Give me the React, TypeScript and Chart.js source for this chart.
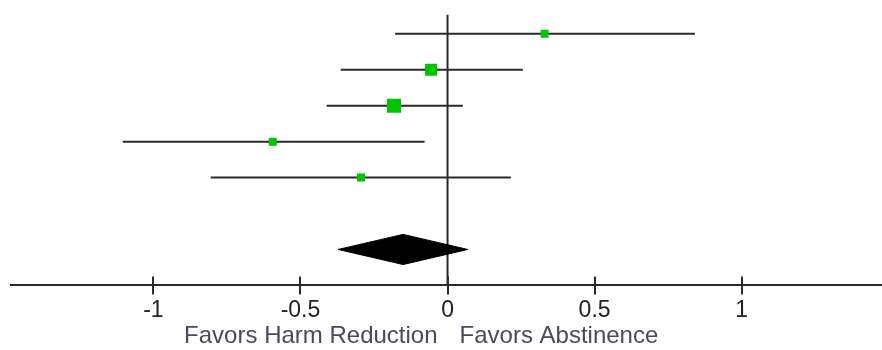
import React, { useEffect, useRef } from "react";
import { Chart, registerables } from "chart.js";

Chart.register(...registerables);

// Study estimates (standardized effect) and 95% CI
const studyRows = [1, 2, 3, 4, 5];
const estimates = [0.33, -0.056, -0.182, -0.594, -0.294];
const lowerCI = [-0.178, -0.363, -0.411, -1.104, -0.805];
const upperCI = [0.841, 0.256, 0.052, -0.078, 0.215];
const weights = [8, 12, 14, 8, 8]; // marker side length (study weight)

// Pooled estimate
const pooledRow = 7;
const pooledEst = -0.151;
const pooledLow = -0.372;
const pooledHigh = 0.069;

const xTicks = [-1, -0.5, 0, 0.5, 1];
const leftLabel = "Favors Harm Reduction";
const rightLabel = "Favors Abstinence";

const FONT = "'Liberation Sans', Arial, sans-serif";

export default function App() {
  const ref = useRef<HTMLCanvasElement | null>(null);

  useEffect(() => {
    const canvas = ref.current!;
    const lineColor = "#2a2a2a";

    const ciDatasets = studyRows.map((r, i) => ({
      type: "scatter" as const,
      data: [
        { x: lowerCI[i], y: r },
        { x: upperCI[i], y: r },
      ],
      showLine: true,
      borderColor: lineColor,
      borderWidth: 2,
      pointRadius: 0,
      order: 2,
    }));

    const diamondHalf = 0.42;
    const diamond = {
      type: "scatter" as const,
      data: [
        { x: pooledLow, y: pooledRow },
        { x: pooledEst, y: pooledRow - diamondHalf },
        { x: pooledHigh, y: pooledRow },
        { x: pooledEst, y: pooledRow + diamondHalf },
        { x: pooledLow, y: pooledRow },
      ],
      showLine: true,
      fill: "shape",
      backgroundColor: "#000",
      borderColor: "#000",
      borderWidth: 1,
      pointRadius: 0,
      tension: 0,
      order: 1,
    };

    const zeroLine = {
      type: "scatter" as const,
      data: [
        { x: 0, y: 0.47 },
        { x: 0, y: 8 },
      ],
      showLine: true,
      borderColor: lineColor,
      borderWidth: 2,
      pointRadius: 0,
      order: 3,
    };

    const points = {
      type: "scatter" as const,
      data: studyRows.map((r, i) => ({ x: estimates[i], y: r })),
      pointStyle: "rect",
      pointRadius: weights.map((w) => w / Math.SQRT2),
      backgroundColor: "#00c400",
      borderColor: "#00c400",
      borderWidth: 0,
      order: 0,
    };

    const extras = {
      id: "forestExtras",
      afterDraw(chart: any) {
        const ctx = chart.ctx;
        const xs = chart.scales.x;
        const bottom = chart.chartArea.bottom;
        ctx.save();
        ctx.strokeStyle = lineColor;
        ctx.lineWidth = 2;
        xTicks.forEach((v) => {
          const px = Math.round(xs.getPixelForValue(v));
          ctx.beginPath();
          ctx.moveTo(px, bottom - 9);
          ctx.lineTo(px, bottom);
          ctx.stroke();
        });
        const zx = xs.getPixelForValue(0);
        ctx.font = `24px ${FONT}`;
        ctx.fillStyle = "#4a4a5c";
        ctx.textBaseline = "alphabetic";
        ctx.textAlign = "right";
        ctx.fillText(leftLabel, zx - 10, bottom + 58);
        ctx.textAlign = "left";
        ctx.fillText(rightLabel, zx + 12, bottom + 58);
        ctx.restore();
      },
    };

    const chart = new Chart(canvas, {
      type: "scatter",
      data: { datasets: [points, diamond, ...ciDatasets, zeroLine] as any },
      options: {
        animation: false,
        responsive: false,
        events: [],
        layout: { autoPadding: false, padding: { left: 3, right: 0, top: 0, bottom: 24 } },
        plugins: { legend: { display: false }, tooltip: { enabled: false } },
        scales: {
          x: {
            type: "linear",
            min: -1.484,
            max: 1.477,
            afterBuildTicks: (axis: any) => {
              axis.ticks = xTicks.map((v) => ({ value: v }));
            },
            grid: {
              drawOnChartArea: false,
              drawTicks: true,
              tickLength: 9,
              color: lineColor,
              lineWidth: 2,
            },
            border: { display: true, color: lineColor, width: 2 },
            ticks: {
              autoSkip: false,
              maxRotation: 0,
              padding: 2,
              color: "#222",
              font: { family: FONT, size: 23 },
              callback: (v: any) => String(v),
            },
          },
          y: {
            type: "linear",
            display: false,
            reverse: true,
            min: 0.28,
            max: 8,
          },
        },
      },
      plugins: [extras],
    });
    return () => chart.destroy();
  }, []);

  return (
    <div style={{ position: "fixed", left: 8, top: 8, width: 874, height: 342 }}>
      <canvas ref={ref} width={874} height={342} style={{ display: "block" }} />
    </div>
  );
}
